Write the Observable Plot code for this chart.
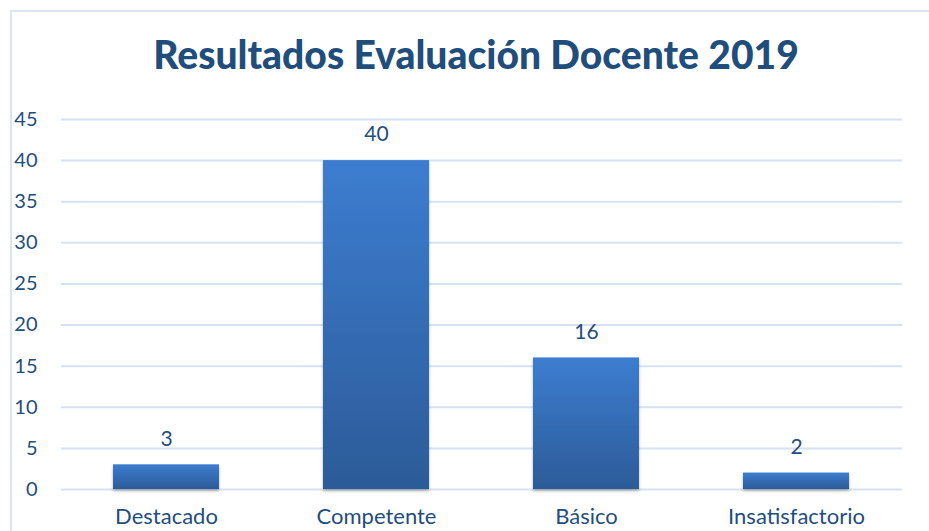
<!DOCTYPE html>
<html>
<head>
<meta charset="utf-8">
<script src="https://cdn.jsdelivr.net/npm/d3@7"></script>
<script src="https://cdn.jsdelivr.net/npm/@observablehq/plot@0.6"></script>
<style>
  html, body { margin: 0; padding: 0; background: #fff; overflow: hidden; }
  #wrap { position: relative; width: 929px; height: 531px; }
  #frame { position: absolute; left: 10px; top: 10px; width: 960px; height: 560px; border: 2px solid #DAE5F4; box-sizing: border-box; }
  #title { position: absolute; left: 0; width: 952px; top: 31px; text-align: center; font-family: Lato, sans-serif; font-weight: 900; font-size: 39px; color: #1F4E7D; margin: 0; }
  #chart { position: absolute; left: 0; top: 0; }
</style>
</head>
<body>
<div id="wrap">
  <div id="frame"></div>
  <div id="title">Resultados Evaluación Docente 2019</div>
  <div id="chart"></div>
</div>
<script>
const categories = ["Destacado", "Competente", "Básico", "Insatisfactorio"];
const values = [3, 40, 16, 2];
const yTicks = [0, 5, 10, 15, 20, 25, 30, 35, 40, 45];

const data = categories.map((c, i) => ({category: c, value: values[i]}));
const textColor = "#1F4E7D";

const chart = Plot.plot({
  width: 929,
  height: 531,
  marginLeft: 61,
  marginRight: 27,
  marginTop: 119,
  marginBottom: 42,
  style: {fontFamily: "Lato, sans-serif", fontSize: "20px", color: textColor, background: "transparent"},
  x: {domain: categories, paddingInner: 0.495, paddingOuter: 0.2475, label: null, tickSize: 0},
  y: {domain: [0, 45], ticks: yTicks, label: null, tickSize: 0},
  marks: [
    Plot.gridY(yTicks, {stroke: "#D6E2F3", strokeOpacity: 1, strokeWidth: 2}),
    Plot.axisY(yTicks, {tickSize: 0, tickPadding: 24, fontSize: 20, fill: textColor, label: null}),
    Plot.axisX({tickSize: 0, tickPadding: 19, fontSize: 22, fill: textColor, label: null}),
    Plot.barY(data, {x: "category", y: "value", fill: "url(#barGrad)"}),
    Plot.text(data, {x: "category", y: "value", text: d => String(d.value), dy: -26, fontSize: 21, fill: textColor})
  ]
});

const svg = d3.select(chart);
const defs = svg.insert("defs", ":first-child");
const g = defs.append("linearGradient").attr("id", "barGrad").attr("x1", 0).attr("y1", 0).attr("x2", 0).attr("y2", 1);
g.append("stop").attr("offset", "0%").attr("stop-color", "#3C7DD0");
g.append("stop").attr("offset", "100%").attr("stop-color", "#2C5B98");
const f = defs.append("filter").attr("id", "shadow").attr("x", "-10%").attr("y", "-10%").attr("width", "120%").attr("height", "130%");
f.append("feDropShadow").attr("dx", 0).attr("dy", 2).attr("stdDeviation", 1.5).attr("flood-color", "#000").attr("flood-opacity", 0.3);
svg.selectAll("rect").attr("filter", "url(#shadow)");

document.getElementById("chart").appendChild(chart);
</script>
</body>
</html>
